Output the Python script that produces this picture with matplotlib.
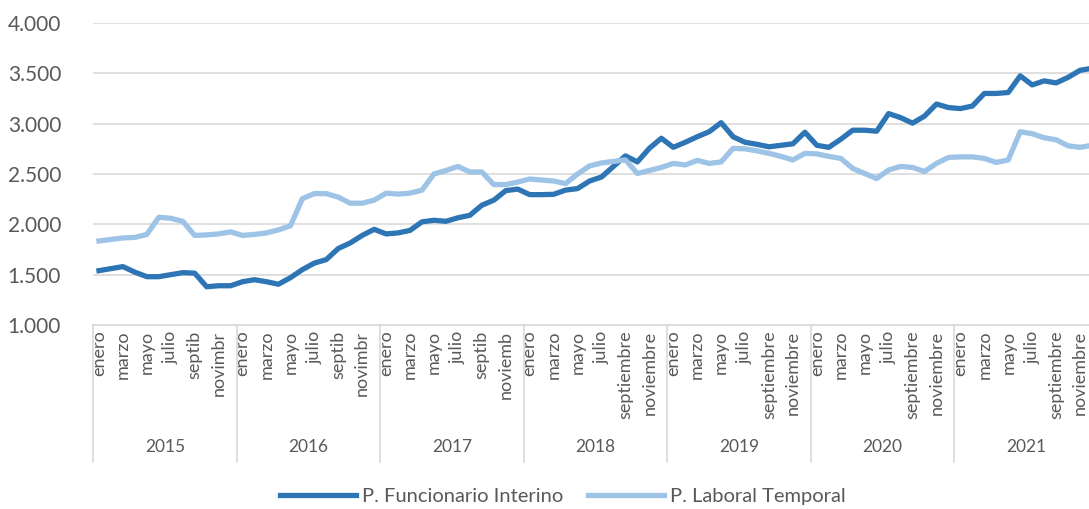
import matplotlib
matplotlib.use("Agg")
import matplotlib.pyplot as plt
import matplotlib.transforms as mtransforms
import numpy as np

plt.rcParams['font.family'] = ['Lato', 'DejaVu Sans']

years = ["2015", "2016", "2017", "2018", "2019", "2020", "2021"]

# tick labels shown every other month, as in the source chart
month_labels = [
    ["enero", "marzo", "mayo", "julio", "septib", "novimbr"],
    ["enero", "marzo", "mayo", "julio", "septib", "novimbr"],
    ["enero", "marzo", "mayo", "julio", "septib", "noviemb"],
    ["enero", "marzo", "mayo", "julio", "septiembre", "noviembre"],
    ["enero", "marzo", "mayo", "julio", "septiembre", "noviembre"],
    ["enero", "marzo", "mayo", "julio", "septiembre", "noviembre"],
    ["enero", "marzo", "mayo", "julio", "septiembre", "noviembre"],
]

funcionario_interino = [
    1540, 1560, 1580, 1525, 1480, 1480, 1500, 1520, 1515, 1380, 1390, 1390,
    1430, 1450, 1430, 1405, 1470, 1550, 1615, 1650, 1760, 1815, 1890, 1950,
    1905, 1915, 1940, 2025, 2040, 2030, 2065, 2090, 2190, 2240, 2335, 2350,
    2295, 2295, 2298, 2340, 2355, 2430, 2470, 2575, 2680, 2620, 2755, 2855,
    2765, 2815, 2870, 2920, 3010, 2870, 2815, 2795, 2770, 2785, 2800, 2915,
    2785, 2765, 2845, 2935, 2935, 2925, 3100, 3060, 3005, 3075, 3195, 3160,
    3150, 3175, 3300, 3300, 3310, 3475, 3385, 3425, 3405, 3460, 3530, 3550,
]

laboral_temporal = [
    1835, 1850, 1865, 1870, 1900, 2070, 2060, 2030, 1890, 1895, 1905, 1925,
    1890, 1900, 1915, 1945, 1985, 2255, 2305, 2305, 2270, 2210, 2210, 2240,
    2310, 2300, 2310, 2340, 2500, 2535, 2575, 2520, 2520, 2395, 2395, 2420,
    2450, 2440, 2430, 2405, 2500, 2580, 2610, 2625, 2640, 2505, 2535, 2565,
    2605, 2590, 2635, 2605, 2620, 2755, 2750, 2730, 2705, 2675, 2640, 2705,
    2700, 2675, 2655, 2555, 2505, 2455, 2540, 2575, 2565, 2525, 2605, 2665,
    2670, 2670, 2655, 2615, 2640, 2920, 2900, 2860, 2840, 2780, 2765, 2785,
]

dark_blue = "#2E75B6"
light_blue = "#9DC3E6"
grid_grey = "#D9D9D9"
text_grey = "#595959"

x = np.arange(len(funcionario_interino))

fig = plt.figure(figsize=(10.89, 5.09), dpi=100)
ax = fig.add_axes([93 / 1089, 1 - 325 / 509, 1005 / 1089, 302 / 509])

ax.plot(x, funcionario_interino, color=dark_blue, lw=3.8, solid_joinstyle="round",
        label="P. Funcionario Interino")
ax.plot(x, laboral_temporal, color=light_blue, lw=3.8, solid_joinstyle="round",
        label="P. Laboral Temporal")

ax.set_ylim(1000, 4000)
ax.set_xlim(-0.5, len(x) - 0.5)
ax.set_yticks(np.arange(1000, 4001, 500))
ax.set_yticklabels([f"{v:,.0f}".replace(",", ".") for v in ax.get_yticks()],
                   fontsize=15, color=text_grey)
ax.yaxis.grid(True, color=grid_grey, lw=1.2)
ax.set_axisbelow(True)
for s in ["left", "right", "top"]:
    ax.spines[s].set_visible(False)
ax.spines["bottom"].set_color(grid_grey)
ax.spines["bottom"].set_linewidth(1.2)
ax.tick_params(axis="y", length=0, pad=23)

tick_pos = [i * 12 + m * 2 for i in range(len(years)) for m in range(6)]
ax.set_xticks(tick_pos)
ax.set_xticklabels([lab for yr in month_labels for lab in yr], rotation=90,
                   fontsize=13, color=text_grey, va="top")
ax.tick_params(axis="x", length=0, pad=4)

# year level of the category axis
trans = mtransforms.blended_transform_factory(ax.transData, ax.transAxes)
for i, yr in enumerate(years):
    ax.text(i * 12 + 5.5, -0.405, yr, transform=trans, ha="center", va="center",
            fontsize=12.5, color=text_grey)
for i in range(len(years) + 1):
    ax.plot([i * 12 - 0.5, i * 12 - 0.5], [0, -0.455], transform=trans,
            color=grid_grey, lw=1.2, clip_on=False)

fig.legend(loc="center", bbox_to_anchor=(0.517, 0.024), ncol=2, frameon=False,
           fontsize=14.5, handlelength=3.8, handletextpad=0.3, columnspacing=1.2,
           labelcolor=text_grey)

fig.savefig("out.png", dpi=100)
plt.close(fig)
